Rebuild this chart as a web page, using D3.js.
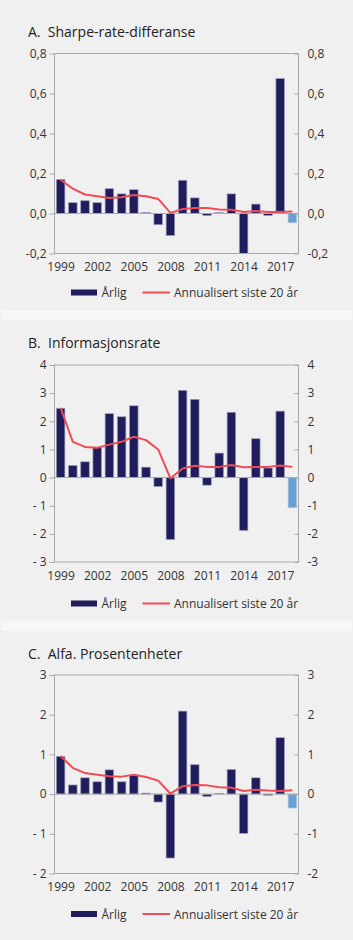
<!DOCTYPE html>
<html>
<head>
<meta charset="utf-8">
<script src="https://cdn.jsdelivr.net/npm/d3@7"></script>
<style>
  html, body { margin: 0; padding: 0; background: #f0f0f0; }
  svg { display: block; font-family: "Open Sans", "Noto Sans", sans-serif; }
</style>
</head>
<body>
<svg id="chart" width="353" height="940"></svg>
<script>
const years = d3.range(1999, 2019);
const yearTickLabels = [1999, 2002, 2005, 2008, 2011, 2014, 2017];

// Panel A: Sharpe-rate-differanse
const sharpeAnnual = [0.17, 0.054, 0.064, 0.054, 0.124, 0.098, 0.119, 0.005, -0.056, -0.11, 0.166, 0.078, -0.01, 0.004, 0.098, -0.21, 0.047, -0.01, 0.675, -0.046];
const sharpeAvg = [0.169, 0.124, 0.095, 0.086, 0.078, 0.081, 0.093, 0.086, 0.073, 0.003, 0.022, 0.027, 0.027, 0.02, 0.019, 0.008, 0.012, 0.008, 0.008, 0.01];
const sharpeTicks = [-0.2, 0, 0.2, 0.4, 0.6, 0.8];

// Panel B: Informasjonsrate
const infoAnnual = [2.46, 0.43, 0.56, 1.06, 2.27, 2.16, 2.55, 0.37, -0.32, -2.2, 3.1, 2.78, -0.27, 0.87, 2.32, -1.88, 1.38, 0.34, 2.36, -1.07];
const infoAvg = [2.48, 1.27, 1.09, 1.06, 1.17, 1.27, 1.45, 1.33, 1.0, -0.03, 0.32, 0.42, 0.38, 0.38, 0.45, 0.37, 0.38, 0.38, 0.43, 0.38];
const infoTicks = [-3, -2, -1, 0, 1, 2, 3, 4];

// Panel C: Alfa. Prosentenheter
const alfaAnnual = [0.95, 0.23, 0.41, 0.31, 0.61, 0.31, 0.47, 0.025, -0.2, -1.61, 2.09, 0.74, -0.06, 0.02, 0.62, -0.99, 0.41, -0.03, 1.42, -0.35];
const alfaAvg = [0.96, 0.66, 0.53, 0.49, 0.45, 0.44, 0.49, 0.43, 0.34, 0.01, 0.2, 0.23, 0.22, 0.17, 0.16, 0.08, 0.11, 0.09, 0.08, 0.1];
const alfaTicks = [-2, -1, 0, 1, 2, 3];

const titles = ["A.  Sharpe-rate-differanse", "B.  Informasjonsrate", "C.  Alfa. Prosentenheter"];
const legendLabels = ["Årlig", "Annualisert siste 20 år"];

const svg = d3.select("#chart");

// separator bands
svg.append("rect").attr("x", 1).attr("y", 310).attr("width", 351).attr("height", 10.5).attr("fill", "#f7f7f7");
svg.append("rect").attr("x", 1).attr("y", 620.5).attr("width", 351).attr("height", 10.5).attr("fill", "#f7f7f7");

const NAVY = "#1f1d5c", LIGHT = "#6a9fd4", RED = "#ef4b55", FRAME = "#a9a9a9", TEXT = "#333";

function fmtLeft(decimals) {
  return v => {
    let s = decimals ? d3.format("." + decimals + "f")(Math.abs(v)).replace(".", ",") : String(Math.abs(v));
    if (v < 0) return decimals ? "-" + s : "- " + s;
    return s;
  };
}
function fmtRight(decimals) {
  return v => {
    let s = decimals ? d3.format("." + decimals + "f")(Math.abs(v)).replace(".", ",") : String(Math.abs(v));
    return v < 0 ? "-" + s : s;
  };
}

function panel(cfg) {
  const g = svg.append("g");
  const x = d3.scaleBand().domain(years).range([54.5, 298.5]).paddingInner(0.3).paddingOuter(0.15);
  const y = d3.scaleLinear().domain(cfg.domain).range([cfg.bottom, cfg.top]);

  g.append("text").attr("x", 28).attr("y", cfg.titleY).attr("font-size", 14).attr("fill", "#222")
    .attr("xml:space", "preserve").style("white-space", "pre").text(cfg.title);

  // clip
  const clipId = "clip" + cfg.idx;
  svg.append("clipPath").attr("id", clipId).append("rect")
    .attr("x", 54.5).attr("y", cfg.top).attr("width", 244).attr("height", cfg.bottom - cfg.top);

  // bars
  g.append("g").attr("clip-path", `url(#${clipId})`).selectAll("rect").data(cfg.annual).join("rect")
    .attr("x", (d, i) => x(years[i]))
    .attr("width", x.bandwidth())
    .attr("y", d => Math.min(y(d), y(0)))
    .attr("height", d => Math.abs(y(d) - y(0)))
    .attr("fill", (d, i) => i === years.length - 1 ? LIGHT : NAVY)
    .attr("stroke", (d, i) => i === years.length - 1 ? "#a9c3e0" : "#9c9cbc")
    .attr("stroke-width", 0.7);

  // zero line
  g.append("line").attr("x1", 54.5).attr("x2", 298.5).attr("y1", y(0)).attr("y2", y(0))
    .attr("stroke", FRAME).attr("stroke-width", 1);

  // frame
  g.append("rect").attr("x", 54.5).attr("y", cfg.top).attr("width", 244).attr("height", cfg.bottom - cfg.top)
    .attr("fill", "none").attr("stroke", FRAME).attr("stroke-width", 1);

  // line
  const line = d3.line().x((d, i) => x(years[i]) + x.bandwidth() / 2).y(d => y(d));
  g.append("path").datum(cfg.avg).attr("d", line).attr("fill", "none").attr("stroke", RED)
    .attr("stroke-width", 2).attr("stroke-linejoin", "round");

  // left axis
  const left = g.append("g").attr("transform", "translate(54.5,0)")
    .call(d3.axisLeft(y).tickValues(cfg.ticks).tickSize(5).tickPadding(3).tickFormat(fmtLeft(cfg.decimals)));
  left.select(".domain").remove();
  left.selectAll("line").attr("stroke", FRAME);
  left.selectAll("text").attr("font-size", 12).attr("fill", TEXT).attr("font-family", "Open Sans");

  // right axis (ticks pointing inward)
  const right = g.append("g").attr("transform", "translate(298.5,0)")
    .call(d3.axisRight(y).tickValues(cfg.ticks).tickSize(0).tickPadding(9).tickFormat(fmtRight(cfg.decimals)));
  right.select(".domain").remove();
  right.selectAll(".tick").append("line").attr("x1", -4).attr("x2", 0).attr("stroke", FRAME);
  right.selectAll("text").attr("font-size", 12).attr("fill", TEXT).attr("font-family", "Open Sans");

  // x labels
  g.append("g").selectAll("text").data(yearTickLabels).join("text")
    .attr("x", d => x(d) + x.bandwidth() / 2 + 0.5)
    .attr("y", cfg.bottom + 17.5)
    .attr("text-anchor", "middle").attr("font-size", 12).attr("fill", TEXT)
    .text(d => d);

  // legend
  const ly = cfg.legendY;
  g.append("rect").attr("x", 71).attr("y", ly - 3).attr("width", 26).attr("height", 6).attr("fill", NAVY);
  g.append("text").attr("x", 101.5).attr("y", ly + 4.5).attr("font-size", 12).attr("fill", TEXT).text(legendLabels[0]);
  g.append("line").attr("x1", 142.5).attr("x2", 170).attr("y1", ly).attr("y2", ly).attr("stroke", RED).attr("stroke-width", 2);
  g.append("text").attr("x", 174).attr("y", ly + 4.5).attr("font-size", 12).attr("fill", TEXT).text(legendLabels[1]);
}

panel({ idx: 0, title: titles[0], titleY: 37.3, top: 53.5, bottom: 253.5, domain: [-0.2, 0.8], ticks: sharpeTicks, decimals: 1, annual: sharpeAnnual, avg: sharpeAvg, legendY: 292.5 });
panel({ idx: 1, title: titles[1], titleY: 348.3, top: 365, bottom: 562, domain: [-3, 4], ticks: infoTicks, decimals: 0, annual: infoAnnual, avg: infoAvg, legendY: 603.5 });
panel({ idx: 2, title: titles[2], titleY: 658.7, top: 675, bottom: 873.5, domain: [-2, 3], ticks: alfaTicks, decimals: 0, annual: alfaAnnual, avg: alfaAvg, legendY: 914 });
</script>
</body>
</html>
